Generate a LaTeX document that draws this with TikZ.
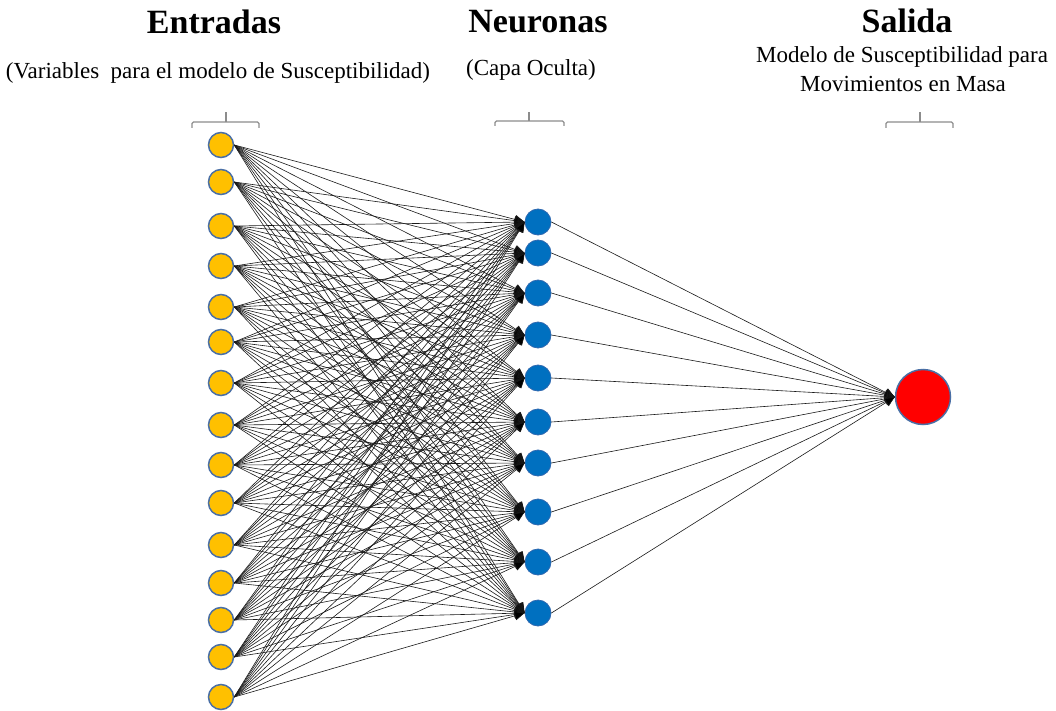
\documentclass[tikz,border=0pt]{standalone}
\usepackage{fontspec}
\setmainfont{Liberation Serif}
\usetikzlibrary{arrows.meta}
\definecolor{inyellow}{HTML}{FFC000}
\definecolor{inborder}{HTML}{4A6FA5}
\definecolor{hidblue}{HTML}{0070C0}
\definecolor{hidborder}{HTML}{2F68B0}
\definecolor{brkgray}{HTML}{8C8C8C}
\begin{document}
\begin{tikzpicture}[x=1pt,y=-1pt,
 inp/.style={circle,draw=inborder,fill=inyellow,line width=1.5pt,minimum size=25pt,inner sep=0pt},
 hid/.style={circle,draw=hidborder,fill=hidblue,line width=0.8pt,minimum size=26pt,inner sep=0pt},
 outn/.style={circle,draw=inborder,fill=red,line width=1.5pt,minimum size=55pt,inner sep=0pt},
 conn/.style={line width=0.6pt,draw=black!90,-{Triangle[length=10pt,width=9pt,fill=black]}},
 ttl/.style={font=\fontsize{34}{40}\selectfont\bfseries,anchor=base,inner sep=0pt},
 sub/.style={font=\fontsize{23}{28}\selectfont,anchor=base,inner sep=0pt},
 brk/.style={draw=brkgray,line width=1.2pt,rounded corners=1.5pt}]
\useasboundingbox (0,0) rectangle (1056,711);
% titles
\node[ttl] (tin) at (214,34) {Entradas};
\node[sub] (sin) at (218,79) {(Variables\ \ para el modelo de Susceptibilidad)};
\node[ttl] (thid) at (538,33) {Neuronas};
\node[sub] (shid) at (531,76) {(Capa Oculta)};
\node[ttl] (tout) at (907,33) {Salida};
\node[sub] (sout1) at (902,63) {Modelo de Susceptibilidad para};
\node[sub] (sout2) at (903,92) {Movimientos en Masa};
% brackets
\draw[brk] (192,128) -- (192,122) -- (259,122) -- (259,128);
\draw[brk] (226,122) -- (226,112);
\draw[brk] (495,126) -- (495,121) -- (564,121) -- (564,126);
\draw[brk] (529,121) -- (529,112);
\draw[brk] (886,128) -- (886,122) -- (953,122) -- (953,128);
\draw[brk] (920,122) -- (920,112);
% input nodes
\foreach \y [count=\i] in {145,182,226,266,307,342,383,425,465,503,545,583,620,657,697}
  \node[inp] (i\i) at (221,\y) {};
% hidden nodes
\foreach \y [count=\j] in {222,253,293,335,378,422,463,512,562,613}
  \node[hid] (h\j) at (538,\y) {};
% output node
\node[outn] (o) at (923,397) {};
% connections
\foreach \i in {1,...,15}
  \foreach \j in {1,...,10}
    \draw[conn] (i\i.east) -- (h\j.west);
\foreach \j in {1,...,10}
  \draw[conn] (h\j.east) -- (o.west);
\end{tikzpicture}
\end{document}
